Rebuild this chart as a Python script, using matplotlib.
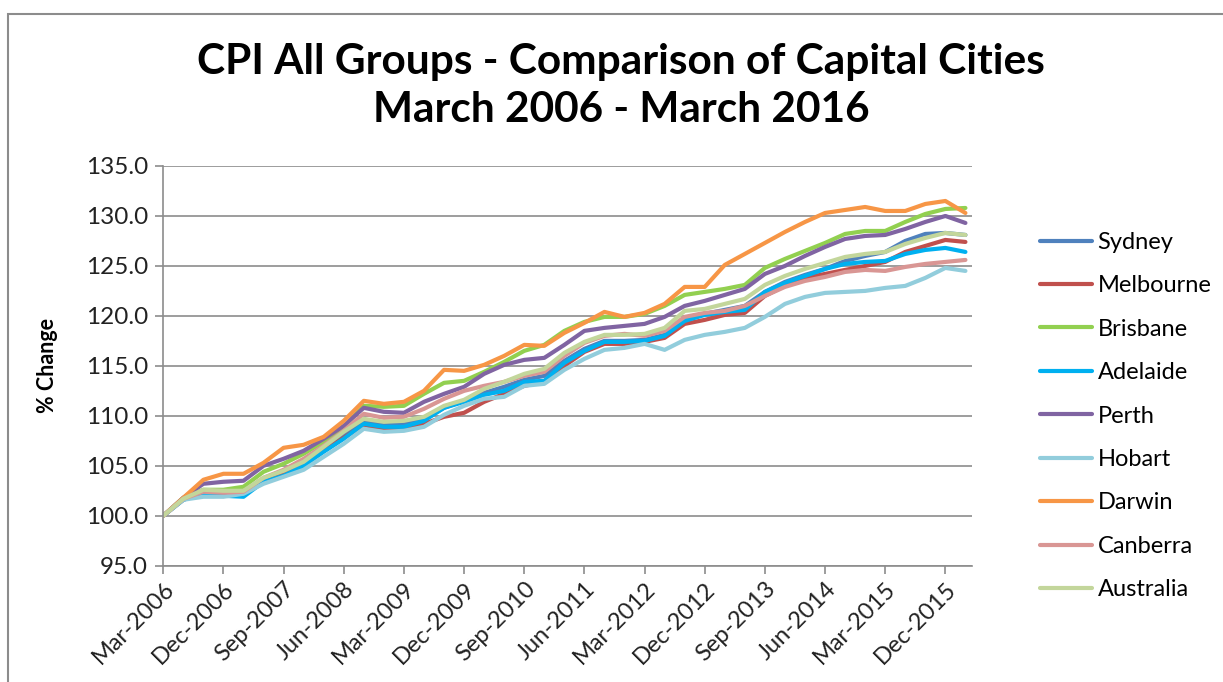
import numpy as np
import matplotlib.pyplot as plt
from matplotlib.patches import Rectangle

plt.rcParams['font.family'] = ['Lato', 'DejaVu Sans']

quarters = ['Mar', 'Jun', 'Sep', 'Dec']
periods = [f"{quarters[i % 4]}-{2006 + i // 4}" for i in range(41)]

sydney = [100.0, 101.7, 102.3, 102.2, 102.2, 103.6, 104.2, 105.2, 106.6, 108.0,
          109.4, 109.1, 109.2, 109.6, 110.8, 111.5, 112.3, 112.9, 113.6, 114.0,
          115.5, 116.7, 117.5, 117.5, 117.6, 118.1, 119.6, 120.2, 120.6, 121.0,
          122.4, 123.4, 124.1, 124.7, 125.5, 126.0, 126.4, 127.5, 128.2, 128.3, 128.1]
melbourne = [100.0, 101.6, 102.3, 102.2, 102.2, 103.5, 104.2, 105.1, 106.5, 107.8,
             109.1, 108.6, 108.7, 109.2, 109.9, 110.3, 111.4, 112.2, 113.0, 113.4,
             115.0, 116.4, 117.2, 117.2, 117.4, 117.8, 119.2, 119.6, 120.1, 120.3,
             122.0, 123.0, 123.8, 124.2, 124.6, 125.0, 125.4, 126.4, 127.0, 127.6, 127.4]
brisbane = [100.0, 101.8, 102.6, 102.6, 102.9, 104.4, 105.2, 106.2, 107.4, 108.9,
            111.0, 110.9, 111.0, 112.2, 113.3, 113.5, 114.4, 115.4, 116.5, 117.1,
            118.5, 119.4, 119.9, 119.9, 120.2, 121.0, 122.1, 122.4, 122.7, 123.1,
            124.8, 125.7, 126.5, 127.3, 128.2, 128.5, 128.5, 129.4, 130.2, 130.7, 130.8]
adelaide = [100.0, 101.6, 102.2, 102.0, 101.9, 103.4, 104.0, 105.0, 106.4, 107.7,
            109.2, 108.9, 108.9, 109.5, 110.8, 111.4, 112.1, 112.5, 113.4, 113.5,
            115.3, 116.5, 117.4, 117.4, 117.5, 118.0, 119.5, 120.1, 120.4, 120.6,
            122.4, 123.3, 124.0, 124.7, 125.2, 125.4, 125.5, 126.2, 126.6, 126.8, 126.4]
perth = [100.0, 101.8, 103.2, 103.4, 103.5, 105.0, 105.7, 106.5, 107.7, 109.0,
         110.8, 110.4, 110.3, 111.4, 112.2, 112.9, 114.2, 115.1, 115.6, 115.8,
         117.1, 118.5, 118.8, 119.0, 119.2, 119.9, 121.0, 121.5, 122.1, 122.7,
         124.2, 125.0, 126.0, 126.9, 127.7, 128.0, 128.1, 128.7, 129.4, 130.0, 129.3]
hobart = [100.0, 101.6, 101.9, 101.9, 102.2, 103.2, 103.9, 104.6, 105.9, 107.2,
          108.7, 108.4, 108.5, 108.9, 110.1, 111.0, 111.7, 111.9, 113.0, 113.2,
          114.6, 115.7, 116.6, 116.8, 117.2, 116.6, 117.6, 118.1, 118.4, 118.8,
          119.9, 121.2, 121.9, 122.3, 122.4, 122.5, 122.8, 123.0, 123.8, 124.8, 124.5]
darwin = [100.0, 101.8, 103.6, 104.2, 104.2, 105.3, 106.8, 107.1, 107.9, 109.5,
          111.5, 111.2, 111.4, 112.5, 114.6, 114.5, 115.1, 116.0, 117.1, 117.0,
          118.3, 119.3, 120.4, 119.9, 120.3, 121.2, 122.9, 122.9, 125.1, 126.2,
          127.3, 128.4, 129.4, 130.3, 130.6, 130.9, 130.5, 130.5, 131.2, 131.5, 130.3]
canberra = [100.0, 101.7, 102.4, 102.3, 102.4, 103.8, 104.6, 105.7, 107.0, 108.5,
            110.2, 109.8, 109.9, 110.7, 111.7, 112.5, 113.0, 113.4, 114.0, 114.4,
            116.0, 117.3, 118.0, 118.2, 118.0, 118.5, 119.9, 120.3, 120.5, 121.0,
            122.0, 122.9, 123.5, 123.9, 124.4, 124.6, 124.5, 124.9, 125.2, 125.4, 125.6]
australia = [100.0, 101.7, 102.6, 102.5, 102.5, 103.8, 104.5, 105.4, 106.9, 108.4,
             109.7, 109.4, 109.5, 109.9, 111.0, 111.6, 112.7, 113.4, 114.2, 114.7,
             116.3, 117.4, 118.1, 118.1, 118.2, 118.8, 120.5, 120.7, 121.2, 121.7,
             123.1, 124.0, 124.7, 125.3, 125.9, 126.2, 126.4, 127.2, 127.8, 128.3, 128.1]

cities = ['Sydney', 'Melbourne', 'Brisbane', 'Adelaide', 'Perth',
          'Hobart', 'Darwin', 'Canberra', 'Australia']
series = [sydney, melbourne, brisbane, adelaide, perth, hobart, darwin, canberra, australia]
colors = ['#4F81BD', '#C0504D', '#92D050', '#00B0F0', '#8064A2',
          '#92CDDC', '#F79646', '#D99694', '#C3D69B']

fig = plt.figure(figsize=(12.23, 6.82), dpi=100)
ax = fig.add_axes([0.1335, 0.1705, 0.6613, 0.5861])

# chart frame like the excel chart area
fig.patches.append(Rectangle((8 / 1223, -0.1), 1.2, 0.1 + 1 - 14 / 682,
                             transform=fig.transFigure, fill=False,
                             edgecolor='#8c8c8c', linewidth=1.5))

x = np.arange(len(periods))
for name, vals, c in zip(cities, series, colors):
    ax.plot(x, vals, color=c, linewidth=3.0, label=name, solid_capstyle='round')

ax.set_xlim(0, 40.33)
ax.set_ylim(95, 135)
ax.set_yticks(np.arange(95, 136, 5))
ax.set_yticklabels([f"{v:.1f}" for v in np.arange(95, 136, 5)], fontsize=17.5)
ax.set_xticks(x[::3])
ax.set_xticklabels(periods[::3], rotation=45, ha='right', rotation_mode='anchor', fontsize=17)

ax.grid(axis='y', color='#8c8c8c', linewidth=1.2)
ax.set_axisbelow(True)
for s in ['top', 'right']:
    ax.spines[s].set_visible(False)
for s in ['left', 'bottom']:
    ax.spines[s].set_color('#8c8c8c')
    ax.spines[s].set_linewidth(1.2)
ax.tick_params(axis='both', colors='#8c8c8c', length=6, width=1.2, labelcolor='#222222')
ax.tick_params(axis='x', pad=3)
ax.tick_params(axis='y', pad=5)

ax.set_ylabel('% Change', fontsize=15.5, fontweight='bold')
ax.yaxis.set_label_coords(-0.130, 0.5)

fig.text(0.508, 0.909, 'CPI All Groups - Comparison of Capital Cities',
         ha='center', va='center', fontsize=30.5, fontweight='bold')
fig.text(0.508, 0.838, 'March 2006 - March 2016',
         ha='center', va='center', fontsize=30.5, fontweight='bold')

fig.legend(loc='upper left', bbox_to_anchor=(1028 / 1223, 1 - 220 / 682),
           frameon=False, fontsize=17, handlelength=2.2, handletextpad=0.25,
           labelspacing=0.95, borderpad=0)

fig.savefig('out.png', dpi=100)
